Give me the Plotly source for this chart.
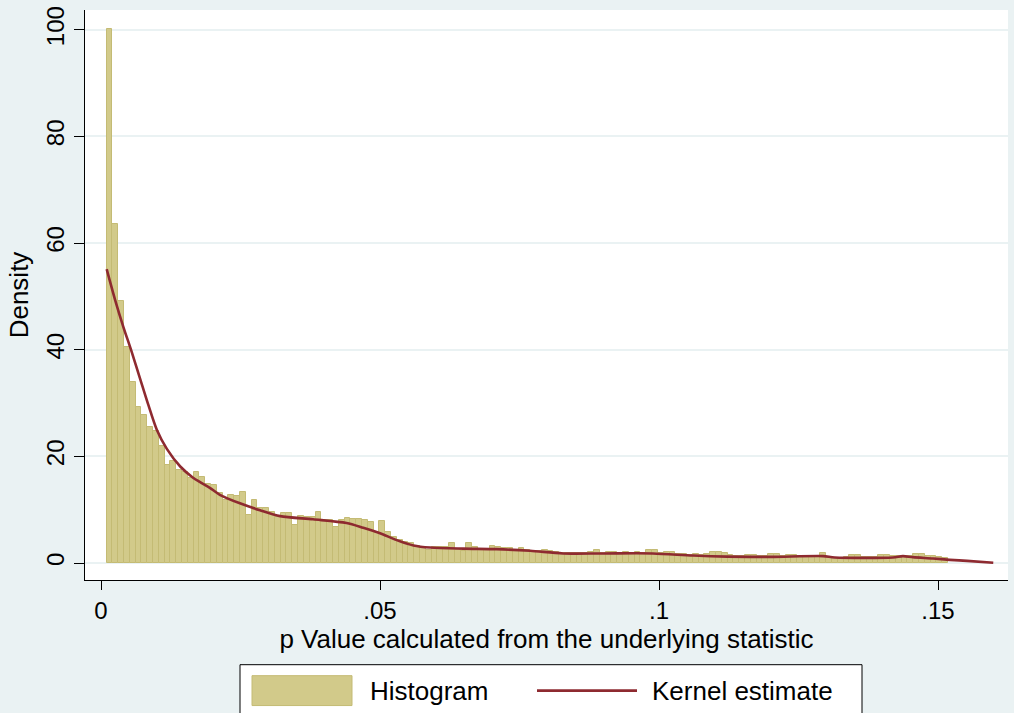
import plotly.graph_objects as go

# Histogram of p values: bin layout and densities
bin_start = 0.001
bin_width = 0.00104
density = [
    100.2, 63.5, 49.2, 40.6, 33.9, 29.3, 27.7, 25.5, 24.8, 22.0,
    18.3, 19.1, 17.4, 17.0, 15.9, 17.0, 16.1, 14.8, 14.6, 13.1,
    11.8, 12.7, 12.5, 13.3, 9.0, 11.8, 10.3, 10.3, 9.6, 8.6,
    9.3, 9.4, 7.1, 8.8, 8.6, 8.6, 9.5, 8.0, 8.0, 6.7,
    8.0, 8.5, 8.3, 8.2, 8.0, 7.7, 5.6, 7.8, 5.9, 4.9,
    4.3, 4.0, 3.7, 3.2, 3.1, 2.4, 3.0, 3.0, 3.0, 3.8,
    2.4, 2.3, 3.8, 3.0, 2.5, 2.4, 3.2, 3.0, 2.9, 2.9,
    2.5, 2.9, 2.4, 2.3, 2.3, 2.5, 2.2, 2.1, 1.9, 1.9,
    1.8, 1.9, 1.9, 2.0, 2.4, 1.9, 2.0, 2.0, 1.9, 2.0,
    1.9, 2.0, 1.9, 2.5, 2.4, 1.9, 2.0, 2.0, 1.7, 1.7,
    1.6, 1.7, 1.6, 1.7, 2.0, 2.0, 1.8, 1.5, 1.4, 1.4,
    1.5, 1.6, 1.3, 1.3, 1.7, 1.7, 1.4, 1.6, 1.6, 1.3,
    1.3, 1.3, 1.4, 1.9, 1.1, 1.0, 1.0, 1.1, 1.5, 1.5,
    1.2, 1.2, 1.2, 1.6, 1.6, 1.3, 1.3, 1.3, 1.3, 1.7,
    1.7, 1.4, 1.4, 1.2, 1.0,
]

# Kernel density estimate
kernel_x = [
    0.00102, 0.00251, 0.0040, 0.0055, 0.0070, 0.0085, 0.0100, 0.0118,
    0.0142, 0.0165, 0.0177, 0.0195, 0.0213, 0.0249, 0.0285, 0.0321,
    0.0380, 0.0440, 0.0470, 0.0500, 0.0530, 0.0560, 0.0590, 0.0649,
    0.0709, 0.0769, 0.0828, 0.0900, 0.0989, 0.1061, 0.1122, 0.1199,
    0.1294, 0.1315, 0.1419, 0.1437, 0.1455, 0.1491, 0.1521, 0.1552,
    0.1599,
]
kernel_y = [
    55.1, 49.4, 44.3, 39.6, 34.6, 29.6, 25.0, 21.4,
    18.1, 16.0, 15.2, 14.1, 12.8, 11.2, 9.9, 8.8,
    8.2, 7.5, 6.6, 5.6, 4.3, 3.3, 2.9, 2.7,
    2.6, 2.3, 1.8, 1.8, 1.8, 1.4, 1.2, 1.15,
    1.3, 1.05, 1.05, 1.3, 1.1, 0.85, 0.6, 0.4,
    0.05,
]

y_ticks = [0, 20, 40, 60, 80, 100]
x_ticks = [0, 0.05, 0.1, 0.15]
x_tick_labels = ["0", ".05", ".1", ".15"]
legend_labels = ["Histogram", "Kernel estimate"]

BAR_FILL = "#D2CA8A"
BAR_EDGE = "#C4BB74"
LINE_COLOR = "#8E2A30"
BG = "#EAF2F3"
FONT = "Liberation Sans, Arial, sans-serif"

W, H = 1014, 713
ML, MR, MT, MB = 85, 6, 8, 133
PW, PH = W - ML - MR, H - MT - MB


def px_x(px):
    return (px - ML) / PW


def px_y(py):
    return (H - MB - py) / PH


fig = go.Figure()
fig.add_trace(go.Bar(
    y=density,
    x0=bin_start + bin_width / 2,
    dx=bin_width,
    width=bin_width,
    marker=dict(color=BAR_FILL, line=dict(color=BAR_EDGE, width=1)),
    name=legend_labels[0],
    showlegend=False,
))
fig.add_trace(go.Scatter(
    x=kernel_x, y=kernel_y, mode="lines",
    line=dict(color=LINE_COLOR, width=2.6, shape="spline", smoothing=0.8),
    name=legend_labels[1],
    showlegend=False,
))

fig.update_layout(
    width=W, height=H, autosize=False,
    margin=dict(l=ML, r=MR, t=MT, b=MB, pad=0),
    paper_bgcolor=BG, plot_bgcolor="white",
    font=dict(family=FONT, size=24, color="black"),
    bargap=0,
    showlegend=False,
)
fig.update_xaxes(
    range=[-0.002867, 0.16254],
    tickvals=x_ticks, ticktext=x_tick_labels,
    showgrid=False, zeroline=False,
    showline=True, linecolor="black", linewidth=1,
    ticks="outside", ticklen=9, tickcolor="black", tickwidth=1,
    tickfont=dict(size=24),
    title=dict(text="p Value calculated from the underlying statistic",
               font=dict(size=26), standoff=2),
)
fig.update_yaxes(
    range=[-3.18, 103.7],
    tickvals=y_ticks,
    showgrid=True, gridcolor=BG, gridwidth=1.5,
    zeroline=False,
    showline=True, linecolor="black", linewidth=1,
    ticks="outside", ticklen=10, tickcolor="black", tickwidth=1,
    tickangle=-90, tickfont=dict(size=24),
    title=dict(text="Density", font=dict(size=26), standoff=6),
)

# Legend box drawn below the plot
fig.add_shape(type="rect", xref="paper", yref="paper",
              x0=px_x(240), x1=px_x(862), y0=px_y(725), y1=px_y(665),
              fillcolor="white", line=dict(color="black", width=1), layer="above")
fig.add_shape(type="rect", xref="paper", yref="paper",
              x0=px_x(252), x1=px_x(352), y0=px_y(706), y1=px_y(676),
              fillcolor=BAR_FILL, line=dict(color=BAR_EDGE, width=1), layer="above")
fig.add_shape(type="line", xref="paper", yref="paper",
              x0=px_x(537), x1=px_x(637), y0=px_y(691), y1=px_y(691),
              line=dict(color=LINE_COLOR, width=2.6), layer="above")
fig.add_annotation(xref="paper", yref="paper", x=px_x(368), y=px_y(691),
                   text=legend_labels[0], showarrow=False,
                   xanchor="left", yanchor="middle", font=dict(size=26))
fig.add_annotation(xref="paper", yref="paper", x=px_x(650), y=px_y(691),
                   text=legend_labels[1], showarrow=False,
                   xanchor="left", yanchor="middle", font=dict(size=26))

fig.write_html("out.html")
